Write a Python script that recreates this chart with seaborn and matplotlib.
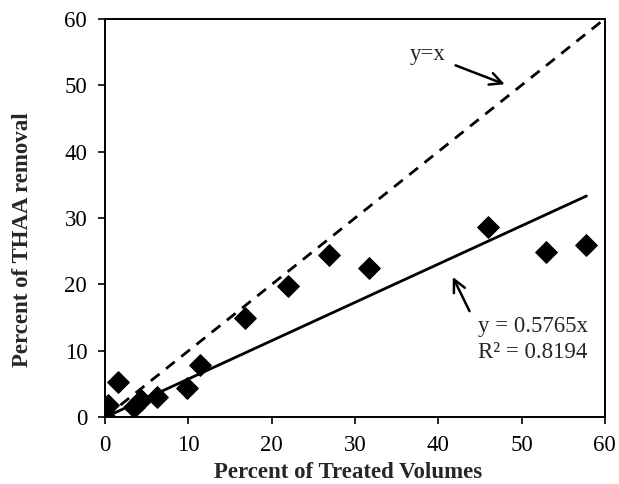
import matplotlib
matplotlib.use("Agg")
import matplotlib.pyplot as plt
import seaborn as sns
import numpy as np
import pandas as pd

# data
treated = [0.0, 0.3, 1.5, 3.5, 4.3, 6.2, 9.8, 11.4, 16.8, 22.0, 26.9, 31.7, 46.0, 53.0, 57.8]
thaa = [0.0, 1.8, 5.3, 1.6, 2.6, 3.1, 4.4, 7.8, 15.0, 19.8, 24.5, 22.4, 28.6, 24.9, 26.0]
slope = 0.5765
r2 = 0.8194
ticks = [0, 10, 20, 30, 40, 50, 60]

df = pd.DataFrame({"treated": treated, "thaa": thaa})

sns.set_style("white")
plt.rcParams["font.family"] = ["Liberation Serif", "DejaVu Serif"]
fs = 16.5

fig = plt.figure(figsize=(6.19, 4.84), dpi=100)
ax = fig.add_axes([0.17, 0.138, 0.807, 0.823])

# y = x reference and fitted trend line
ax.plot([0, 60], [0, 60], color="black", lw=2, ls=(0, (4, 3)))
xfit = np.array([0, max(treated)])
ax.plot(xfit, slope * xfit, color="black", lw=2)

sns.scatterplot(data=df, x="treated", y="thaa", marker="D", s=120,
                color="black", edgecolor="black", ax=ax, zorder=3)

ax.annotate("y=x", xy=(48.3, 50.0), xytext=(36.6, 54.6), fontsize=fs,
            va="center", arrowprops=dict(arrowstyle="->", color="black", lw=1.8,
                                         mutation_scale=22, shrinkA=5))
ax.annotate("", xy=(41.6, 21.5), xytext=(43.9, 15.6),
            arrowprops=dict(arrowstyle="->", color="black", lw=1.8, mutation_scale=22))
ax.text(44.8, 13.6, "y = %.4fx" % slope, fontsize=fs, va="center", ha="left")
ax.text(44.8, 9.8, "R² = %.4f" % r2, fontsize=fs, va="center", ha="left")

ax.set_xlim(0, 60)
ax.set_ylim(0, 60)
ax.set_xticks(ticks)
ax.set_yticks(ticks)
ax.tick_params(axis="both", which="major", direction="out", length=5, width=1.2,
               labelsize=fs, colors="black", bottom=True, left=True, pad=8)
for s in ax.spines.values():
    s.set_color("black")
    s.set_linewidth(1.4)
ax.set_xlabel("Percent of Treated Volumes", fontsize=fs, fontweight="bold")
ax.set_ylabel("Percent of THAA removal", fontsize=fs, fontweight="bold")
ax.xaxis.set_label_coords(0.486, -0.112)
ax.yaxis.set_label_coords(-0.145, 0.445)

fig.savefig("out.png", dpi=100)
